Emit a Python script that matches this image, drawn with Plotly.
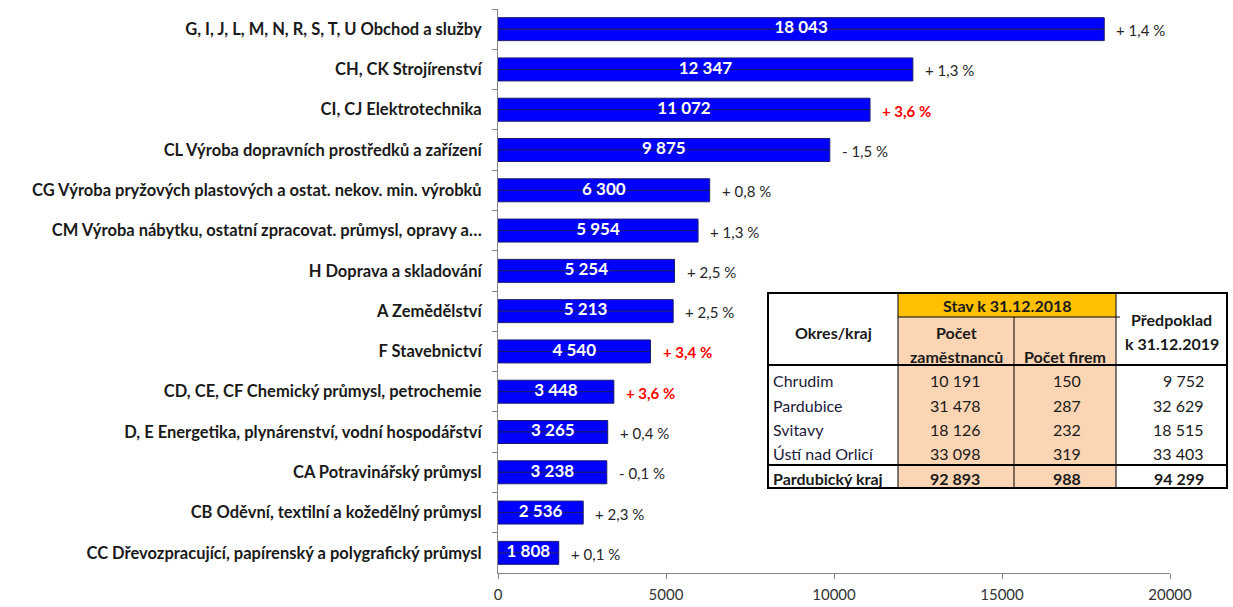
import plotly.graph_objects as go

categories = [
    "G, I, J, L, M, N, R, S, T, U Obchod a služby",
    "CH, CK Strojírenství",
    "CI, CJ Elektrotechnika",
    "CL Výroba dopravních prostředků a zařízení",
    "CG Výroba pryžových plastových a ostat. nekov. min. výrobků",
    "CM Výroba nábytku, ostatní zpracovat. průmysl, opravy a…",
    "H Doprava a skladování",
    "A Zemědělství",
    "F Stavebnictví",
    "CD, CE, CF Chemický průmysl, petrochemie",
    "D, E Energetika, plynárenství, vodní hospodářství",
    "CA Potravinářský průmysl",
    "CB Oděvní, textilní a kožedělný průmysl",
    "CC Dřevozpracující, papírenský a polygrafický průmysl",
]
values = [18043, 12347, 11072, 9875, 6300, 5954, 5254, 5213, 4540, 3448, 3265, 3238, 2536, 1808]
changes = ["+ 1,4 %", "+ 1,3 %", "+ 3,6 %", "- 1,5 %", "+ 0,8 %", "+ 1,3 %", "+ 2,5 %",
           "+ 2,5 %", "+ 3,4 %", "+ 3,6 %", "+ 0,4 %", "- 0,1 %", "+ 2,3 %", "+ 0,1 %"]
highlighted = [False, False, True, False, False, False, False, False, True, True, False, False, False, False]
x_ticks = [0, 5000, 10000, 15000, 20000]

table_districts = ["Chrudim", "Pardubice", "Svitavy", "Ústí nad Orlicí"]
table_employees = [10191, 31478, 18126, 33098]
table_firms = [150, 287, 232, 319]
table_forecast = [9752, 32629, 18515, 33403]
total_label = "Pardubický kraj"
total_employees = 92893
total_firms = 988
total_forecast = 94299


def fmt(n):
    return f"{n:,}".replace(",", " ")


FONT = "Lato"
W, H = 1233, 607
L, R, T, B = 498, 63, 9, 34
PW, PH = W - L - R, H - T - B

fig = go.Figure()
half = 0.285
for off in (-half, 0):
    fig.add_trace(go.Bar(
        y=categories, x=values, orientation="h",
        width=half, offset=off,
        marker=dict(color="#0000FF", line=dict(color="#1A1A6E", width=1)),
        hoverinfo="skip", showlegend=False,
    ))

fig.add_trace(go.Scatter(
    y=categories, x=[v / 2 for v in values], mode="text",
    text=[fmt(v) for v in values], textposition="middle center",
    textfont=dict(family=FONT, size=17, color="white", weight="bold"),
    hoverinfo="skip", showlegend=False,
))

for cat, v, ch, hi in zip(categories, values, changes, highlighted):
    fig.add_annotation(
        x=v, y=cat, text=ch, showarrow=False, xanchor="left", xshift=10, yshift=-1,
        font=dict(family=FONT, size=15, color="#FF0000" if hi else "#262626",
                  weight="bold" if hi else "normal"),
    )


def px(x):
    return (x - L) / PW


def py(y):
    return (H - B - y) / PH


def rect(x0, y0, x1, y1, fill=None, lw=0, lc="black"):
    fig.add_shape(type="rect", xref="paper", yref="paper",
                  x0=px(x0), x1=px(x1), y0=py(y1), y1=py(y0),
                  fillcolor=fill if fill else "rgba(0,0,0,0)",
                  line=dict(width=lw, color=lc), layer="above")


def line(x0, y0, x1, y1, lw=1):
    fig.add_shape(type="line", xref="paper", yref="paper",
                  x0=px(x0), x1=px(x1), y0=py(y0), y1=py(y1),
                  line=dict(width=lw, color="black"), layer="above")


def text(x, y, s, anchor="center", bold=False, size=16, color="#1a1a1a"):
    fig.add_annotation(xref="paper", yref="paper", x=px(x), y=py(y), text=s,
                       showarrow=False, xanchor=anchor, yanchor="middle",
                       font=dict(family=FONT, size=size, color=color,
                                 weight="bold" if bold else "normal"))


# table geometry (pixels)
tx0, tx1, ty0, ty1 = 768, 1227, 293, 488
c1, c2, c3 = 898, 1014, 1116
r_sub, r_head, r_tot = 317, 365, 465

rect(tx0, ty0, tx1, ty1, fill="white")
rect(c1, r_sub, c3, ty1, fill="#FCD5B4")
rect(c1, ty0, c3, r_sub, fill="#FFC000")
line(c1, ty0, c1, ty1)
line(c2, r_sub, c2, ty1)
line(c3, ty0, c3, ty1)
line(c1, r_sub, c3 + 4, r_sub)
line(tx0, r_head, tx1, r_head, lw=2)
line(tx0, r_tot, tx1, r_tot, lw=2)
rect(tx0, ty0, tx1, ty1, lw=2)

text((tx0 + c1) / 2, 332, "Okres/kraj", bold=True)
text((c1 + c3) / 2, 305, "Stav k 31.12.2018", bold=True)
text((c1 + c2) / 2, 332, "Počet", bold=True)
text((c1 + c2) / 2, 356, "zaměstnanců", bold=True)
text((c2 + c3) / 2, 356, "Počet firem", bold=True)
text((c3 + tx1) / 2, 319, "Předpoklad", bold=True)
text((c3 + tx1) / 2, 343, "k 31.12.2019", bold=True)

row_y = [380, 405, 429, 453]
for yy, d, e, f, p in zip(row_y, table_districts, table_employees, table_firms, table_forecast):
    text(tx0 + 3, yy, d, anchor="left", color="#1a1a3a")
    text(955, yy, fmt(e))
    text(1067, yy, fmt(f))
    text(1206, yy, fmt(p), anchor="right")
text(tx0 + 3, 478, total_label, anchor="left", bold=True)
text(955, 478, fmt(total_employees), bold=True)
text(1067, 478, fmt(total_firms), bold=True)
text(1206, 478, fmt(total_forecast), anchor="right", bold=True)

fig.update_layout(
    width=W, height=H,
    margin=dict(l=L, r=R, t=T, b=B, pad=0),
    paper_bgcolor="white", plot_bgcolor="white",
    barmode="overlay",
    font=dict(family=FONT),
    xaxis=dict(range=[0, 20000], tickvals=x_ticks, ticktext=[str(t) for t in x_ticks],
               showline=True, linecolor="#868686", linewidth=1,
               ticks="outside", ticklen=5, tickcolor="#868686", automargin=False,
               showgrid=False, zeroline=False, ticklabelstandoff=3,
               tickfont=dict(family=FONT, size=15, color="#333333")),
    yaxis=dict(type="category", range=[len(categories) - 0.5, -0.5], automargin=False,
               showline=True, linecolor="#868686", linewidth=1,
               ticks="outside", tickson="boundaries", ticklen=5, tickcolor="#868686",
               showgrid=False, zeroline=False, ticklabelstandoff=12,
               tickfont=dict(family=FONT, size=16.5, color="#1a1a1a", weight="bold")),
)

fig.write_html("out.html", config={"displayModeBar": False},
               post_script="document.body.style.margin='0';document.body.style.overflow='hidden';")
